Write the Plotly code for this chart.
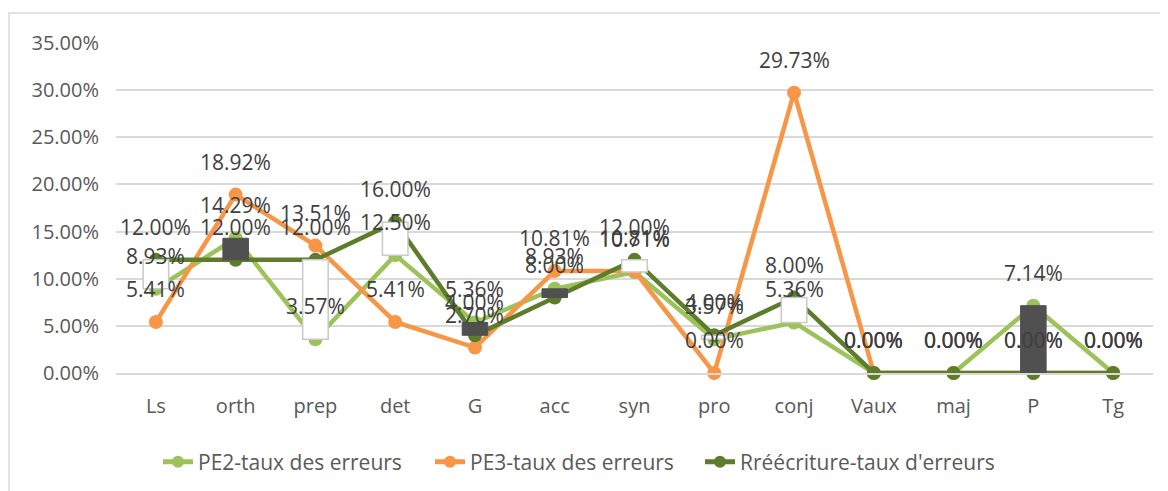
import plotly.graph_objects as go

categories = ["Ls", "orth", "prep", "det", "G", "acc", "syn", "pro", "conj", "Vaux", "maj", "P", "Tg"]
pe2 = [8.93, 14.29, 3.57, 12.50, 5.36, 8.93, 10.71, 3.57, 5.36, 0.00, 0.00, 7.14, 0.00]
pe3 = [5.41, 18.92, 13.51, 5.41, 2.70, 10.81, 10.81, 0.00, 29.73, 0.00, 0.00, 0.00, 0.00]
rew = [12.00, 12.00, 12.00, 16.00, 4.00, 8.00, 12.00, 4.00, 8.00, 0.00, 0.00, 0.00, 0.00]
series_names = ["PE2-taux des erreurs", "PE3-taux des erreurs", "Rréécriture-taux d'erreurs"]
y_ticks = [0, 5, 10, 15, 20, 25, 30, 35]

colors = ["#9BC35A", "#F79646", "#5E7D2C"]
FONT = "Open Sans"
W, H = 1168, 491
OFF = 8  # page body margin
L, R, T, B = 116 - OFF, 15 + OFF, 43 - OFF, 118 + OFF
pw, ph = W - L - R, H - T - B

legend_ids = ["legend", "legend2", "legend3"]
legend_left_px = [158, 430, 700]

fig = go.Figure()
for name, vals, col, lg in zip(series_names, [pe2, pe3, rew], colors, legend_ids):
    fig.add_trace(go.Scatter(
        x=categories, y=vals, name=name, mode="lines+markers",
        line=dict(color=col, width=4.5), marker=dict(color=col, size=14),
        cliponaxis=False, xaxis="x", yaxis="y", legend=lg))

# up-down bars (between first and last series), drawn on an overlay axis so they sit above the lines
up_base = [a if b > a else None for a, b in zip(pe2, rew)]
up_h = [b - a if b > a else None for a, b in zip(pe2, rew)]
dn_base = [b if a > b else None for a, b in zip(pe2, rew)]
dn_h = [a - b if a > b else None for a, b in zip(pe2, rew)]
fig.add_trace(go.Bar(x=categories, y=up_h, base=up_base, width=0.32,
                     marker=dict(color="#FFFFFF", line=dict(color="#C9C9C9", width=1.5)),
                     showlegend=False, xaxis="x2", yaxis="y2", hoverinfo="skip"))
fig.add_trace(go.Bar(x=categories, y=dn_h, base=dn_base, width=0.32,
                     marker=dict(color="#505050", line=dict(color="#505050", width=1)),
                     showlegend=False, xaxis="x2", yaxis="y2", hoverinfo="skip"))

annotations = []
for vals in [pe2, pe3, rew]:
    for c, v in zip(categories, vals):
        annotations.append(dict(x=c, y=v, xref="x", yref="y", text=f"{v:.2f}%",
                                showarrow=False, yshift=33,
                                font=dict(family=FONT, size=21, color="#404040")))

legends = {}
for lg, px in zip(legend_ids, legend_left_px):
    legends[lg] = dict(orientation="h", x=(px - OFF - L) / pw, xanchor="left",
                       y=(T + ph - (462 - OFF)) / ph, yanchor="middle",
                       font=dict(family=FONT, size=21, color="#595959"),
                       bgcolor="rgba(0,0,0,0)", itemsizing="constant")

fig.update_layout(
    width=W, height=H,
    margin=dict(l=L, r=R, t=T, b=B, autoexpand=False),
    paper_bgcolor="white", plot_bgcolor="white",
    font=dict(family=FONT, size=20, color="#595959"),
    barmode="overlay",
    showlegend=True,
    xaxis=dict(type="category", categoryorder="array", categoryarray=categories,
               range=[-0.5, len(categories) - 0.5], showgrid=False,
               showline=True, linecolor="#D9D9D9", linewidth=1.5,
               ticks="", ticklabelstandoff=14,
               tickfont=dict(family=FONT, size=20, color="#595959")),
    yaxis=dict(range=[0, 35], tickvals=y_ticks, ticktext=[f"{t:.2f}%" for t in y_ticks],
               showgrid=True, gridcolor="#D9D9D9", gridwidth=1.5, zeroline=False,
               showline=False, ticks="", ticklabelstandoff=16,
               tickfont=dict(family=FONT, size=20, color="#595959")),
    xaxis2=dict(type="category", categoryorder="array", categoryarray=categories,
                range=[-0.5, len(categories) - 0.5], overlaying="x", visible=False),
    yaxis2=dict(range=[0, 35], overlaying="y", visible=False),
    annotations=annotations,
    shapes=[dict(type="rect", xref="paper", yref="paper",
                 x0=(8 - OFF + 1 - L) / pw, x1=1.2, y0=-1.0, y1=(T + ph - (13 - OFF)) / ph,
                 line=dict(color="#D9D9D9", width=1.5), fillcolor="rgba(0,0,0,0)",
                 layer="below")],
    **legends,
)

fig.write_html("out.html")
